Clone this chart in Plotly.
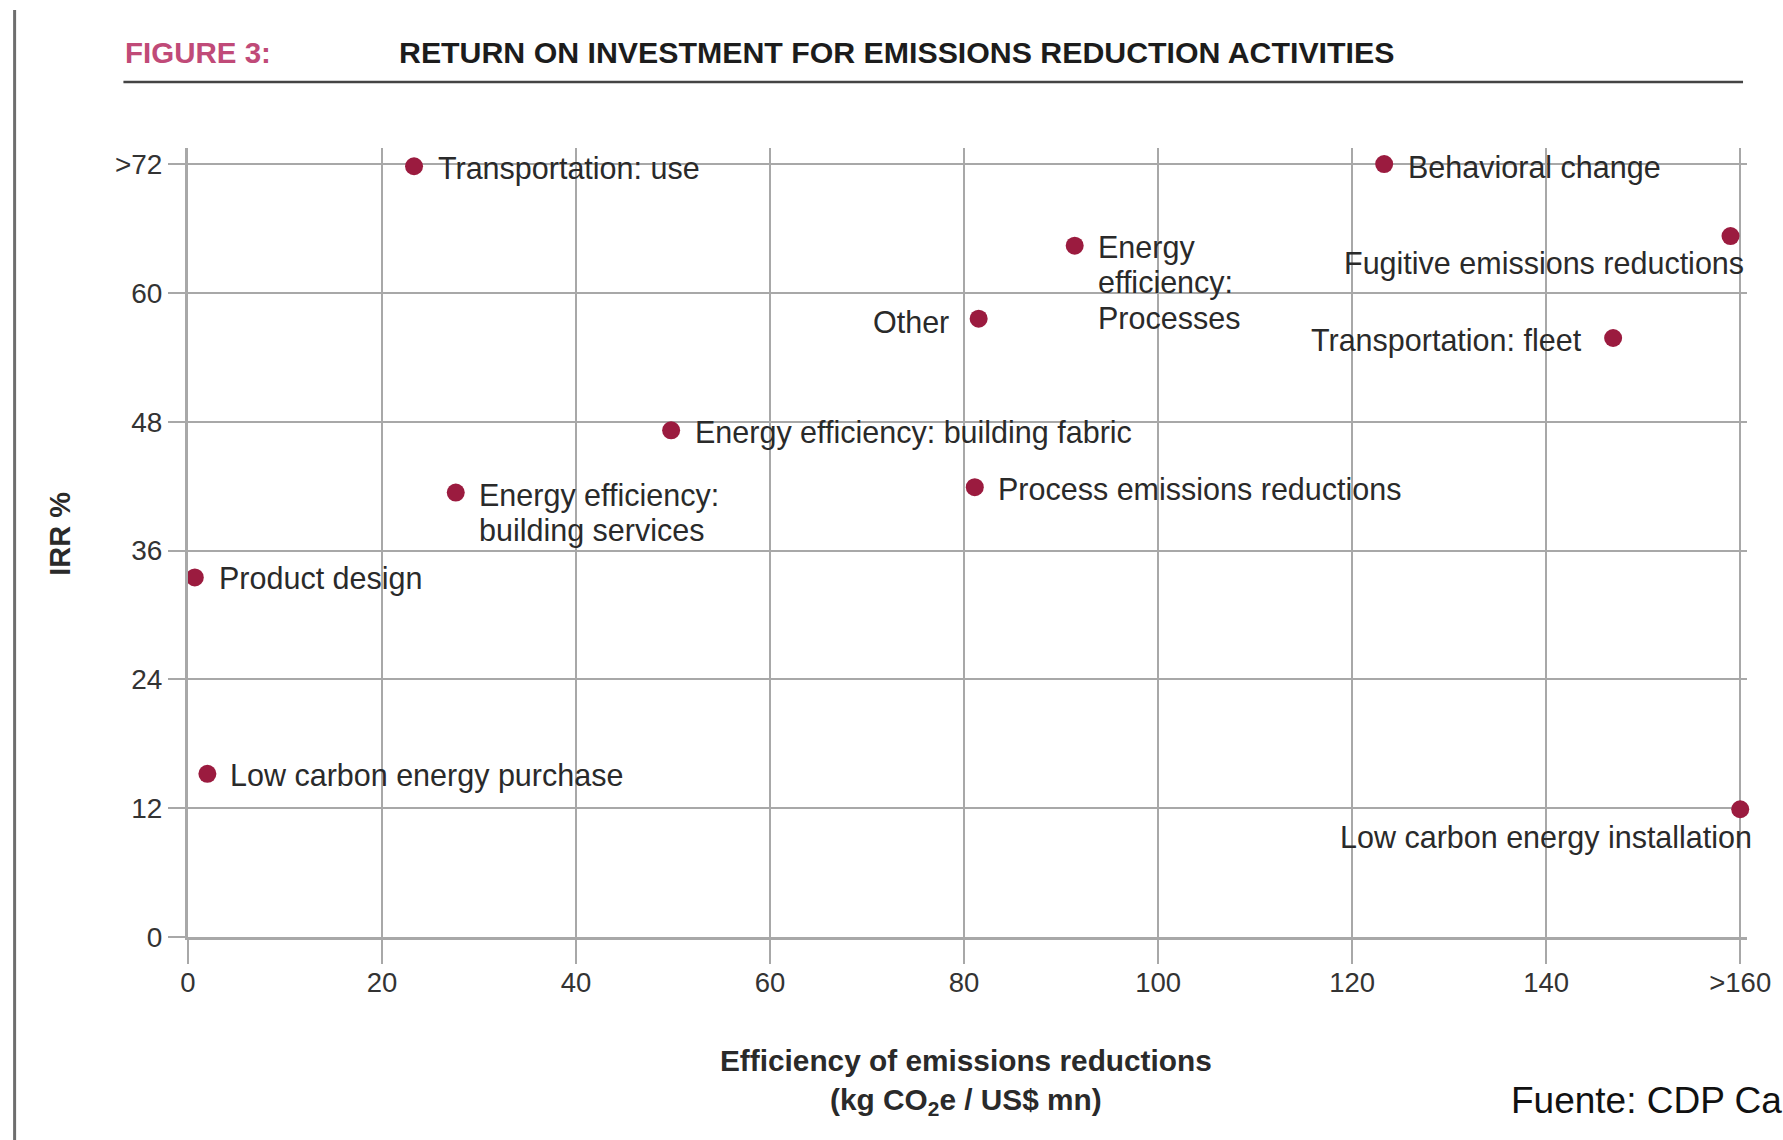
import plotly.graph_objects as go

# ---------------- data ----------------
labels = [
    "Transportation: use",
    "Behavioral change",
    "Energy\nefficiency:\nProcesses",
    "Fugitive emissions reductions",
    "Other",
    "Transportation: fleet",
    "Energy efficiency: building fabric",
    "Energy efficiency:\nbuilding services",
    "Process emissions reductions",
    "Product design",
    "Low carbon energy purchase",
    "Low carbon energy installation",
]
efficiency = [23.3, 123.3, 91.4, 159.0, 81.5, 146.9, 49.8, 27.6, 81.1, 0.7, 2.0, 160.0]
irr = [71.8, 72.0, 64.4, 65.3, 57.6, 55.8, 47.2, 41.4, 41.9, 33.5, 15.2, 11.9]

x_tickvals = [0, 20, 40, 60, 80, 100, 120, 140, 160]
x_ticktext = ["0", "20", "40", "60", "80", "100", "120", "140", ">160"]
y_tickvals = [0, 12, 24, 36, 48, 60, 72]
y_ticktext = ["0", "12", "24", "36", "48", "60", ">72"]

# ---------------- layout constants ----------------
W, H = 1783, 1140
L, R, T, B = 188, 1757, 148, 937
FONT = "Liberation Sans, Arial, Helvetica, sans-serif"
GRID = "#a8a8a8"
TXT = "#2a2a2a"
MARK = "#9b1b3f"


def fx(p):
    return (p - L) / (R - L)


def fy(p):
    return (B - p) / (B - T)


# label placement: (xanchor, xshift, yshift of first line)
placement = {
    "Transportation: use": ("left", 22, -2),
    "Behavioral change": ("left", 22, -3),
    "Energy\nefficiency:\nProcesses": ("left", 21, -2),
    "Fugitive emissions reductions": ("right", 15, -27),
    "Other": ("right", -28, -3),
    "Transportation: fleet": ("right", -29, -2),
    "Energy efficiency: building fabric": ("left", 22, -2),
    "Energy efficiency:\nbuilding services": ("left", 21, -3),
    "Process emissions reductions": ("left", 21, -2),
    "Product design": ("left", 22, -1),
    "Low carbon energy purchase": ("left", 21, -2),
    "Low carbon energy installation": ("right", 14, -28),
}
LINE_H = 35

fig = go.Figure(
    go.Scatter(
        x=efficiency,
        y=irr,
        mode="markers",
        marker=dict(size=18, color=MARK, line=dict(width=0)),
        cliponaxis=False,
        text=[s.replace("\n", " ") for s in labels],
        hoverinfo="text",
        showlegend=False,
    )
)

annotations = []
for lab, xv, yv in zip(labels, efficiency, irr):
    xa, xs, ys = placement[lab]
    for i, line in enumerate(lab.split("\n")):
        annotations.append(
            dict(
                x=xv, y=yv, xref="x", yref="y", text=line, showarrow=False,
                xanchor=xa, yanchor="middle", xshift=xs, yshift=ys - i * LINE_H,
                font=dict(family=FONT, size=30.5, color=TXT),
            )
        )

# titles
annotations += [
    dict(x=fx(123), y=fy(53), xref="paper", yref="paper", text="<b>FIGURE 3:</b>",
         showarrow=False, xanchor="left", yanchor="middle",
         font=dict(family=FONT, size=29.5, color="#c04a78")),
    dict(x=fx(398), y=fy(53), xref="paper", yref="paper",
         text="<b>RETURN ON INVESTMENT FOR EMISSIONS REDUCTION ACTIVITIES</b>",
         showarrow=False, xanchor="left", yanchor="middle",
         font=dict(family=FONT, size=30.3, color="#1c1c1c")),
    dict(x=fx(971), y=fy(1082), xref="paper", yref="paper",
         text="<b>Efficiency of emissions reductions<br>(kg CO<sub>2</sub>e / US$ mn)</b>",
         showarrow=False, xanchor="center", yanchor="middle",
         font=dict(family=FONT, size=29.8, color=TXT)),
    dict(x=fx(59), y=fy(534), xref="paper", yref="paper", text="<b>IRR %</b>",
         showarrow=False, xanchor="center", yanchor="middle", textangle=-90,
         font=dict(family=FONT, size=29, color=TXT)),
    dict(x=fx(1517), y=fy(1100), xref="paper", yref="paper", text="Fuente: CDP Ca",
         showarrow=False, xanchor="left", yanchor="middle",
         font=dict(family=FONT, size=37, color="#111111")),
]

shapes = [
    dict(type="line", xref="paper", yref="paper", x0=fx(123), x1=fx(1753),
         y0=fy(82), y1=fy(82), line=dict(color="#444444", width=2.5)),
    dict(type="line", xref="paper", yref="paper", x0=fx(13.5), x1=fx(13.5),
         y0=fy(10), y1=fy(1140), line=dict(color="#6e6e6e", width=3)),
]

fig.update_layout(
    width=W, height=H,
    margin=dict(l=L, r=W - R, t=T, b=H - B, pad=0),
    paper_bgcolor="white", plot_bgcolor="white",
    annotations=annotations, shapes=shapes,
    font=dict(family=FONT, color=TXT),
)
fig.update_xaxes(
    range=[0, 160.7], tickmode="array", tickvals=x_tickvals, ticktext=x_ticktext,
    showgrid=True, gridcolor=GRID, gridwidth=2, zeroline=False,
    showline=True, linecolor=GRID, linewidth=3,
    ticks="outside", ticklen=24, tickwidth=2, tickcolor=GRID,
    ticklabelstandoff=-5,
    tickfont=dict(family=FONT, size=27.5, color="#333333"),
)
fig.update_yaxes(
    range=[0, 73.5], tickmode="array", tickvals=y_tickvals, ticktext=y_ticktext,
    showgrid=True, gridcolor=GRID, gridwidth=2, zeroline=False,
    showline=True, linecolor=GRID, linewidth=3,
    ticks="outside", ticklen=17, tickwidth=2, tickcolor=GRID,
    tickfont=dict(family=FONT, size=28, color="#333333"),
)

fig.write_html(
    "out.html",
    config={"displayModeBar": False},
    post_script="document.body.style.margin='0px';",
)
